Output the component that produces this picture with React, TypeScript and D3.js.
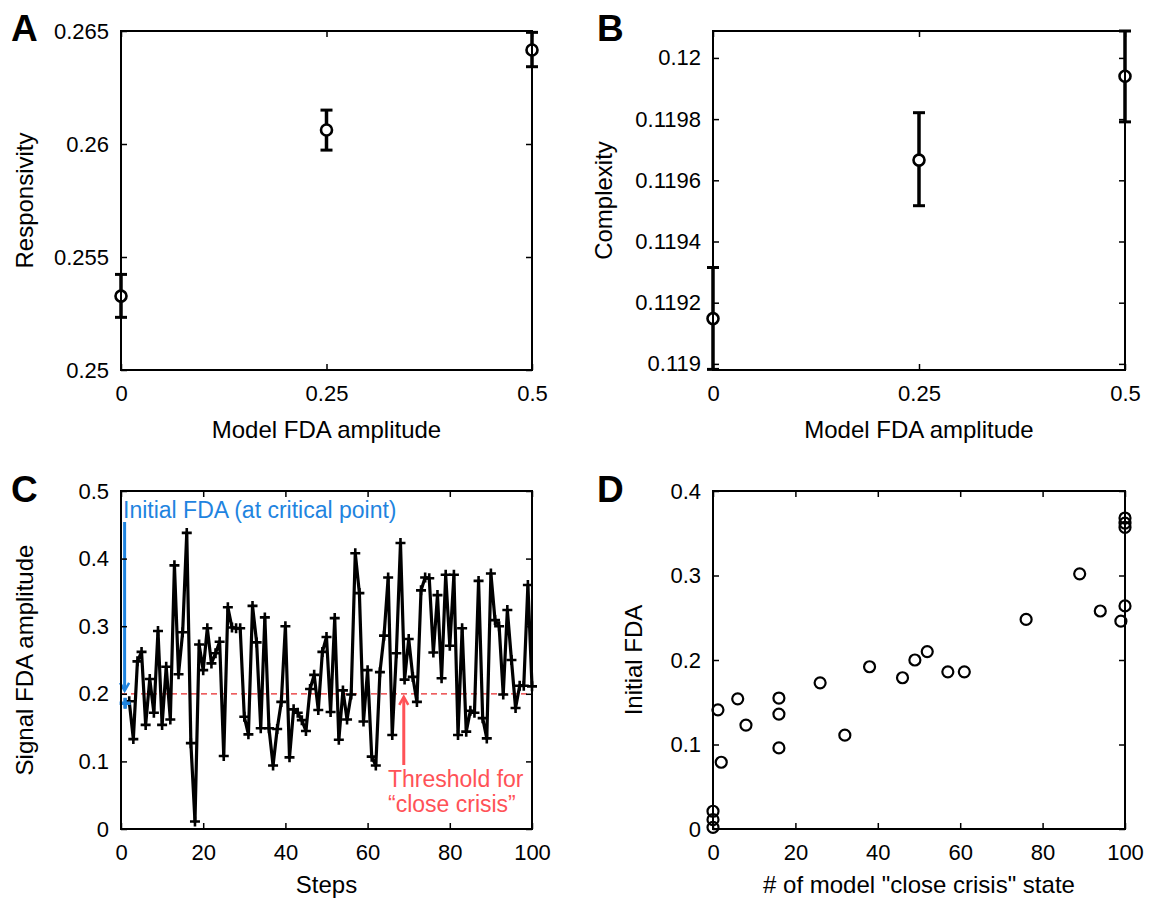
import React, { useEffect, useRef } from "react";
import * as d3 from "d3";

// Panel A / B: model FDA amplitude vs responsivity & complexity
const ampLevels = [0, 0.25, 0.5];
const respMean = [0.25327, 0.26062, 0.26416];
const respLow = [0.25233, 0.25973, 0.26342];
const respHigh = [0.25423, 0.2615, 0.26494];
const cplxMean = [0.119148, 0.119666, 0.11994];
const cplxLow = [0.118982, 0.119517, 0.119791];
const cplxHigh = [0.119315, 0.119821, 0.120088];

const ampTicks = [0, 0.25, 0.5];
const respTicks = [0.25, 0.255, 0.26, 0.265];
const cplxTicks = [0.119, 0.1192, 0.1194, 0.1196, 0.1198, 0.12];

// Panel C: signal FDA amplitude per step (steps 1..100)
const signalFDA = [
  0.186, 0.189, 0.133, 0.248, 0.262, 0.154, 0.222, 0.172, 0.293, 0.154,
  0.24, 0.162, 0.39, 0.229, 0.291, 0.438, 0.127, 0.011, 0.273, 0.235,
  0.297, 0.245, 0.26, 0.277, 0.108, 0.328, 0.298, 0.297, 0.297, 0.166,
  0.14, 0.33, 0.276, 0.149, 0.313, 0.149, 0.094, 0.148, 0.188, 0.3,
  0.106, 0.177, 0.172, 0.161, 0.145, 0.207, 0.228, 0.176, 0.262, 0.284,
  0.173, 0.312, 0.132, 0.205, 0.162, 0.199, 0.408, 0.349, 0.159, 0.235,
  0.107, 0.094, 0.232, 0.286, 0.372, 0.139, 0.26, 0.423, 0.221, 0.281,
  0.225, 0.188, 0.353, 0.372, 0.371, 0.261, 0.346, 0.223, 0.376, 0.271,
  0.376, 0.139, 0.297, 0.144, 0.175, 0.172, 0.367, 0.164, 0.134, 0.378,
  0.309, 0.3, 0.199, 0.324, 0.25, 0.179, 0.212, 0.212, 0.361, 0.211,
];
const threshold = 0.2;
const stepTicks = [0, 20, 40, 60, 80, 100];
const fdaTicksC = [0, 0.1, 0.2, 0.3, 0.4, 0.5];

// Panel D: close-crisis count vs initial FDA
const crisisCount = [0, 0, 0, 1.2, 2, 6, 8, 16, 16, 16, 26, 32, 38, 46, 49, 52, 57, 61, 76, 89, 94, 99, 100, 100, 100, 100];
const initialFDA = [0.021, 0.011, 0.002, 0.141, 0.079, 0.154, 0.123, 0.155, 0.136, 0.096, 0.173, 0.111, 0.192, 0.179, 0.2, 0.21, 0.186, 0.186, 0.248, 0.302, 0.258, 0.246, 0.264, 0.368, 0.362, 0.357];
const countTicks = [0, 20, 40, 60, 80, 100];
const fdaTicksD = [0, 0.1, 0.2, 0.3, 0.4];

const FONT = "'Liberation Sans', Arial, Helvetica, sans-serif";
const BLUE = "#1f84e0";
const RED = "#e8282b";
const PINK = "#ff5257";

const fmt = (d: number) => String(+d.toFixed(4));

type Box = { x0: number; x1: number; y0: number; y1: number };

function drawFrame(
  svg: any,
  box: Box,
  x: any,
  y: any,
  xTicks: number[],
  yTicks: number[],
  xLabel: string,
  yLabel: string,
  yLabelX: number,
  xLabelDy: number
) {
  const g = svg.append("g");
  const tick = 6;
  const styleAxis = (sel: any) => {
    sel.select(".domain").remove();
    sel.selectAll("line").attr("stroke", "#000").attr("stroke-width", 1.5);
    sel.selectAll("text").attr("font-family", FONT).attr("font-size", 22).attr("fill", "#000");
  };
  g.append("g")
    .attr("transform", `translate(0,${box.y1})`)
    .call(d3.axisBottom(x).tickValues(xTicks).tickFormat(fmt).tickSizeInner(-tick).tickSizeOuter(0).tickPadding(15))
    .call(styleAxis);
  g.append("g")
    .attr("transform", `translate(${box.x0},0)`)
    .call(d3.axisLeft(y).tickValues(yTicks).tickFormat(fmt).tickSizeInner(-tick).tickSizeOuter(0).tickPadding(12))
    .call(styleAxis);
  g.append("g")
    .attr("transform", `translate(0,${box.y0})`)
    .call(d3.axisTop(x).tickValues(xTicks).tickFormat(() => "").tickSizeInner(-tick).tickSizeOuter(0))
    .call(styleAxis);
  g.append("g")
    .attr("transform", `translate(${box.x1},0)`)
    .call(d3.axisRight(y).tickValues(yTicks).tickFormat(() => "").tickSizeInner(-tick).tickSizeOuter(0))
    .call(styleAxis);

  g.append("rect")
    .attr("x", box.x0)
    .attr("y", box.y0)
    .attr("width", box.x1 - box.x0)
    .attr("height", box.y1 - box.y0)
    .attr("fill", "none")
    .attr("stroke", "#000")
    .attr("stroke-width", 2);

  g.append("text")
    .attr("x", (box.x0 + box.x1) / 2)
    .attr("y", box.y1 + xLabelDy)
    .attr("text-anchor", "middle")
    .attr("font-family", FONT)
    .attr("font-size", 24)
    .text(xLabel);

  g.append("text")
    .attr("transform", `translate(${yLabelX},${(box.y0 + box.y1) / 2}) rotate(-90)`)
    .attr("text-anchor", "middle")
    .attr("font-family", FONT)
    .attr("font-size", 24)
    .text(yLabel);
}

function drawErrorPanel(svg: any, box: Box, yDomain: number[], mean: number[], lo: number[], hi: number[]) {
  const x = d3.scaleLinear().domain([0, 0.5]).range([box.x0, box.x1]);
  const y = d3.scaleLinear().domain(yDomain).range([box.y1, box.y0]);
  const g = svg.append("g");
  ampLevels.forEach((a, i) => {
    g.append("line")
      .attr("x1", x(a)).attr("x2", x(a))
      .attr("y1", y(lo[i])).attr("y2", y(hi[i]))
      .attr("stroke", "#000").attr("stroke-width", 3.5);
    [lo[i], hi[i]].forEach((v) => {
      g.append("line")
        .attr("x1", x(a) - 6).attr("x2", x(a) + 6)
        .attr("y1", y(v)).attr("y2", y(v))
        .attr("stroke", "#000").attr("stroke-width", 3);
    });
    g.append("circle")
      .attr("cx", x(a)).attr("cy", y(mean[i])).attr("r", 5.5)
      .attr("fill", "#fff").attr("stroke", "#000").attr("stroke-width", 2.6);
  });
  return { x, y };
}

function panelLetter(svg: any, letter: string, px: number, py: number) {
  svg.append("text")
    .attr("x", px).attr("y", py)
    .attr("font-family", FONT).attr("font-weight", "bold").attr("font-size", 37)
    .text(letter);
}

const App = () => {
  const ref = useRef<SVGSVGElement>(null);

  useEffect(() => {
    const svg = d3.select(ref.current);
    svg.selectAll("*").remove();

    const boxA = { x0: 121, x1: 532, y0: 31, y1: 370 };
    const boxB = { x0: 713, x1: 1125, y0: 31, y1: 370 };
    const boxC = { x0: 121, x1: 532, y0: 491, y1: 829 };
    const boxD = { x0: 713, x1: 1125, y0: 491, y1: 829 };

    // A
    const a = drawErrorPanel(svg, boxA, [0.25, 0.265], respMean, respLow, respHigh);
    drawFrame(svg, boxA, a.x, a.y, ampTicks, respTicks, "Model FDA amplitude", "Responsivity", 33, 68);

    // B
    const b = drawErrorPanel(svg, boxB, [0.11898, 0.120088], cplxMean, cplxLow, cplxHigh);
    drawFrame(svg, boxB, b.x, b.y, ampTicks, cplxTicks, "Model FDA amplitude", "Complexity", 612, 68);

    // C
    const xc = d3.scaleLinear().domain([0, 100]).range([boxC.x0, boxC.x1]);
    const yc = d3.scaleLinear().domain([0, 0.5]).range([boxC.y1, boxC.y0]);
    const gc = svg.append("g");
    gc.append("line")
      .attr("x1", xc(0)).attr("x2", xc(100))
      .attr("y1", yc(threshold)).attr("y2", yc(threshold))
      .attr("stroke", RED).attr("stroke-width", 1.3).attr("stroke-dasharray", "6,4");
    const pts = signalFDA.map((v, i) => [i + 1, v] as [number, number]);
    gc.append("path")
      .datum(pts)
      .attr("fill", "none")
      .attr("stroke", "#000")
      .attr("stroke-width", 3.2)
      .attr("stroke-linejoin", "round")
      .attr("d", d3.line<[number, number]>().x((d) => xc(d[0])).y((d) => yc(d[1])));
    const plus = "M-5,0H5M0,-5V5";
    gc.selectAll(".pt")
      .data(pts)
      .enter()
      .append("path")
      .attr("transform", (d) => `translate(${xc(d[0])},${yc(d[1])})`)
      .attr("d", plus)
      .attr("stroke", "#000")
      .attr("stroke-width", 2.6);
    // initial FDA annotation
    gc.append("path")
      .attr("transform", `translate(${xc(pts[0][0])},${yc(pts[0][1])})`)
      .attr("d", "M-5.5,0H5.5M0,-5.5V5.5")
      .attr("stroke", BLUE)
      .attr("stroke-width", 3.4);
    const ax = xc(pts[0][0]) - 0.5;
    const tipY = yc(threshold) - 3;
    gc.append("line")
      .attr("x1", ax).attr("x2", ax).attr("y1", 522).attr("y2", tipY - 1)
      .attr("stroke", BLUE).attr("stroke-width", 3);
    gc.append("path")
      .attr("d", `M${ax - 4.5},${tipY - 8}L${ax},${tipY}L${ax + 4.5},${tipY - 8}`)
      .attr("fill", "none").attr("stroke", BLUE).attr("stroke-width", 2.5);
    gc.append("text")
      .attr("x", 123).attr("y", 518)
      .attr("font-family", FONT).attr("font-size", 23).attr("fill", BLUE)
      .text("Initial FDA (at critical point)");
    // threshold annotation
    const rx = xc(68.8);
    const rTip = yc(threshold) + 3;
    gc.append("line")
      .attr("x1", rx).attr("x2", rx).attr("y1", 765).attr("y2", rTip + 1)
      .attr("stroke", PINK).attr("stroke-width", 3);
    gc.append("path")
      .attr("d", `M${rx - 4.5},${rTip + 8}L${rx},${rTip}L${rx + 4.5},${rTip + 8}`)
      .attr("fill", "none").attr("stroke", PINK).attr("stroke-width", 2.5);
    gc.append("text")
      .attr("x", 388).attr("y", 787)
      .attr("font-family", FONT).attr("font-size", 23).attr("fill", PINK)
      .text("Threshold for");
    gc.append("text")
      .attr("x", 388).attr("y", 812)
      .attr("font-family", FONT).attr("font-size", 23).attr("fill", PINK)
      .text("\u201Cclose crisis\u201D");
    drawFrame(svg, boxC, xc, yc, stepTicks, fdaTicksC, "Steps", "Signal FDA amplitude", 33, 64);

    // D
    const xd = d3.scaleLinear().domain([0, 100]).range([boxD.x0, boxD.x1]);
    const yd = d3.scaleLinear().domain([0, 0.4]).range([boxD.y1, boxD.y0]);
    svg.append("g")
      .selectAll("circle")
      .data(crisisCount.map((c, i) => [c, initialFDA[i]]))
      .enter()
      .append("circle")
      .attr("cx", (d) => xd(d[0]))
      .attr("cy", (d) => yd(d[1]))
      .attr("r", 5.5)
      .attr("fill", "none")
      .attr("stroke", "#000")
      .attr("stroke-width", 2.2);
    drawFrame(svg, boxD, xd, yd, countTicks, fdaTicksD, "# of model \"close crisis\" state", "Initial FDA", 642, 64);

    panelLetter(svg, "A", 11, 41);
    panelLetter(svg, "B", 597, 41);
    panelLetter(svg, "C", 11, 502);
    panelLetter(svg, "D", 597, 502);
  }, []);

  return (
    <svg
      ref={ref}
      width={1157}
      height={900}
      style={{ position: "absolute", left: 0, top: 0, background: "#fff" }}
    />
  );
};

export default App;
